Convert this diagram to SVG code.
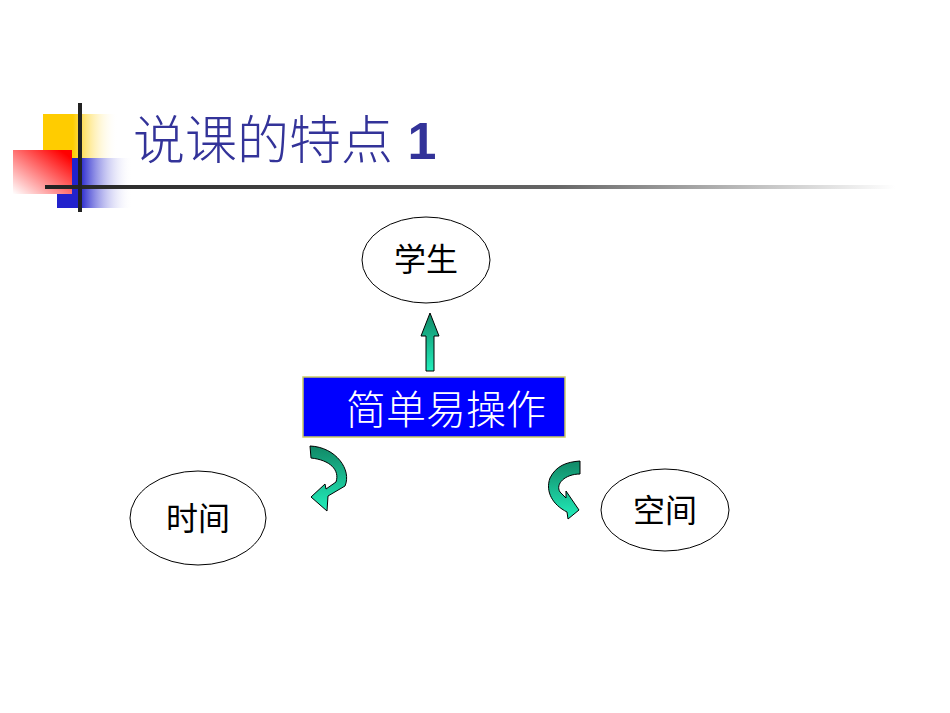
<svg xmlns="http://www.w3.org/2000/svg" width="950" height="713" viewBox="0 0 950 713">
<defs>
<linearGradient id="gy" x1="0" x2="1" y1="0" y2="0"><stop offset="0.4" stop-color="#ffcc00"/><stop offset="1" stop-color="#fff" stop-opacity="0"/></linearGradient>
<linearGradient id="gb" x1="0" x2="1" y1="0" y2="0"><stop offset="0.3" stop-color="#2222cc"/><stop offset="1" stop-color="#fff" stop-opacity="0"/></linearGradient>
<linearGradient id="gr" x1="1" x2="0" y1="0" y2="1"><stop offset="0.1" stop-color="#ff0000"/><stop offset="1" stop-color="#fff"/></linearGradient>
<linearGradient id="gl" x1="0" x2="1"><stop offset="0" stop-color="#222"/><stop offset="0.6" stop-color="#666"/><stop offset="1" stop-color="#fff"/></linearGradient>
<linearGradient id="ga" x1="0" x2="0" y1="0" y2="1"><stop offset="0" stop-color="#118866"/><stop offset="1" stop-color="#22eebb"/></linearGradient>
<style>
.n{fill:#fff;stroke:#000;stroke-width:1}
.t{font-family:"Liberation Serif","Noto Sans CJK SC",serif;font-size:32px;fill:#000;text-anchor:middle}
.ar{fill:url(#ga);stroke:#000;stroke-width:1}
</style>
</defs>
<g id="deco">
<rect x="43" y="114" width="75" height="44" fill="url(#gy)"/>
<rect x="57" y="158" width="76" height="50" fill="url(#gb)"/>
<rect x="13" y="150" width="59" height="44" fill="url(#gr)"/>
<rect x="45" y="185" width="850" height="4" fill="url(#gl)"/>
<rect x="78" y="103" width="4" height="109" fill="#222"/>
</g>
<text id="title" x="133" y="159" font-family="'Liberation Sans','Noto Sans CJK SC',sans-serif" font-size="52" fill="#333399" font-weight="300">说课的特点 <tspan font-weight="bold">1</tspan></text>
<g id="connectors">
<path class="ar" d="M426,371 L426,336 L421,336 L430,313 L439,336 L434,336 L434,371 Z"/>
<path class="ar" d="M310,446 C336,447 352,470 345,486 L328,496 L327,511 L311,497 L325,484 L326,489 L336,482 C340,470 330,460 311,458 Z"/>
<path class="ar" d="M580,461 L580,474 C565,474 555,484 560,492 L566,498 L566,491 L579,510 L568,519 L567,512 C553,505 545,492 550,478 C556,466 566,462 580,461 Z"/>
</g>
<g id="n_main">
<rect x="303" y="377" width="262" height="60" fill="#0000ff" stroke="#cccc66" stroke-width="1.5"/>
<text x="446" y="424" font-family="'Liberation Serif','Noto Sans CJK SC',serif" font-size="40" font-weight="300" fill="#fff" text-anchor="middle">简单易操作</text>
</g>
<g id="n_student"><ellipse class="n" cx="426" cy="260" rx="64" ry="43"/><text class="t" x="426" y="271">学生</text></g>
<g id="n_time"><ellipse class="n" cx="198" cy="518" rx="68" ry="47"/><text class="t" x="198" y="530">时间</text></g>
<g id="n_space"><ellipse class="n" cx="665" cy="510" rx="64" ry="41"/><text class="t" x="665" y="522">空间</text></g>
</svg>
